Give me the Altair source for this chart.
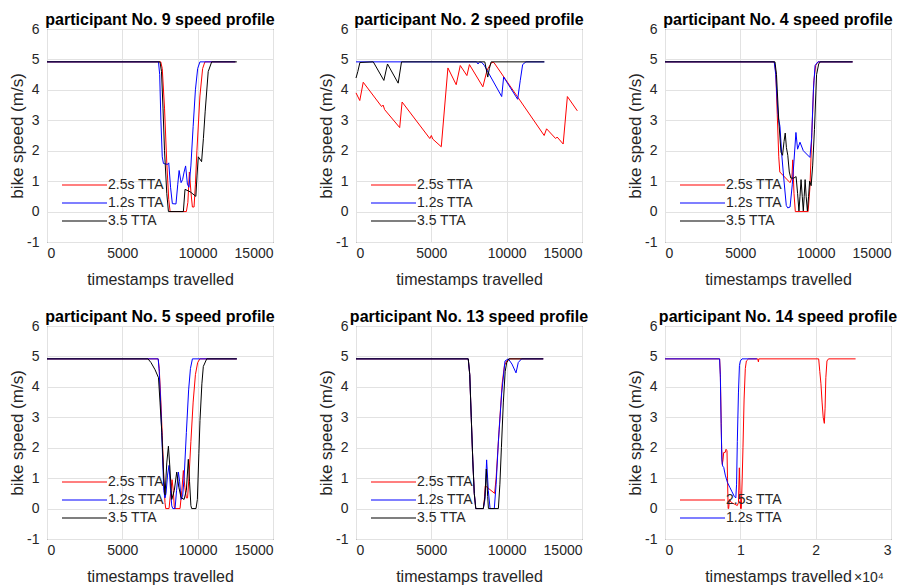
import altair as alt
import pandas as pd

SERIES_NAMES = ["2.5s TTA", "1.2s TTA", "3.5 TTA"]
SERIES_COLORS = ["#ff0000", "#0000ff", "#000000"]
Y_TICKS = [-1, 0, 1, 2, 3, 4, 5, 6]
X_TICKS_15K = [0, 5000, 10000, 15000]
X_TICKS_30K = [0, 10000, 20000, 30000]

# ---------------- participant No. 9 ----------------
p9_red_x = [0, 7550, 7650, 7800, 7950, 8080, 8170, 9250, 9350, 9450, 9560, 9650, 9760, 9850, 9950, 10150, 10330, 10480, 12500]
p9_red_y = [4.92, 4.92, 4.7, 3.4, 1.6, 0.4, 0, 0, 0.3, 1.3, 0.6, 0.15, 0.15, 0.9, 2.0, 3.8, 4.7, 4.92, 4.92]
p9_blue_x = [0, 7400, 7480, 7560, 7650, 7730, 8000, 8080, 8200, 8320, 8560, 8680, 8770, 8900, 9000, 9100, 9200, 9320, 9420, 9550, 9700, 9850, 10000, 10150, 12500]
p9_blue_y = [4.92, 4.92, 4.5, 3.0, 1.8, 1.58, 1.55, 1.6, 0.8, 0.26, 0.25, 0.9, 1.35, 0.95, 1.05, 1.3, 1.5, 0.9, 0.8, 1.5, 2.8, 4.0, 4.7, 4.92, 4.92]
p9_black_x = [0, 7500, 7600, 7700, 7800, 7950, 8060, 9050, 9160, 9500, 9880, 9960, 10040, 10260, 10380, 10500, 10700, 10930, 12600]
p9_black_y = [4.92, 4.92, 4.6, 3.4, 2.0, 0.6, 0, 0, 0.73, 0.65, 0.5, 1.2, 1.8, 1.64, 2.4, 3.3, 4.6, 4.92, 4.92]

# ---------------- participant No. 2 ----------------
p2_red_x = [0, 250, 480, 1700, 1800, 1900, 2900, 3060, 4900, 5000, 5100, 5660, 6100, 6650, 6920, 7360, 7530, 8420, 8700, 9000, 9150, 12490, 12650, 13250, 13350, 13750, 14030, 14690]
p2_red_y = [3.9, 3.65, 4.25, 3.45, 3.5, 3.35, 2.76, 3.6, 2.4, 2.5, 2.38, 2.13, 4.72, 4.17, 4.8, 4.47, 4.83, 4.1, 4.65, 4.9, 4.9, 2.5, 2.72, 2.4, 2.45, 2.22, 3.78, 3.31]
p2_blue_x = [0, 8000, 8100, 8200, 8350, 8520, 9670, 9800, 10730, 10900, 11060, 11280, 12500]
p2_blue_y = [4.92, 4.92, 4.85, 4.92, 4.9, 4.8, 3.78, 4.42, 3.69, 4.3, 4.83, 4.92, 4.92]
p2_black_x = [0, 120, 260, 1145, 1850, 2090, 2800, 3020, 8550, 8745, 8850, 8970, 12500]
p2_black_y = [4.39, 4.6, 4.9, 4.92, 4.31, 4.85, 4.22, 4.92, 4.92, 4.42, 4.7, 4.92, 4.92]

# ---------------- participant No. 4 ----------------
p4_red_x = [0, 7250, 7350, 7450, 7550, 7620, 8300, 8420, 8480, 8560, 8650, 9500, 9620, 9750, 9880, 10000, 10150, 12450]
p4_red_y = [4.92, 4.92, 4.6, 3.2, 1.8, 1.3, 0.95, 1.1, 1.7, 0.6, 0, 0, 0.8, 2.6, 4.3, 4.8, 4.92, 4.92]
p4_blue_x = [0, 7250, 7350, 7450, 7520, 7630, 7744, 7900, 8050, 8150, 8300, 8450, 8560, 8690, 8800, 8960, 9180, 9620, 9730, 9850, 9960, 10150, 12450]
p4_blue_y = [4.92, 4.92, 4.5, 3.6, 3.1, 2.8, 1.9, 1.0, 0.2, 0.12, 0.15, 0.9, 1.66, 2.6, 2.05, 2.28, 2.0, 1.78, 2.4, 4.0, 4.8, 4.92, 4.92]
p4_black_x = [0, 7300, 7400, 7550, 7700, 7800, 7900, 7980, 8060, 8150, 8250, 8350, 8550, 8700, 8800, 8890, 8960, 9030, 9110, 9180, 9240, 9300, 9370, 9450, 9530, 9600, 9700, 9800, 9920, 10060, 10200, 10300, 12450]
p4_black_y = [4.92, 4.92, 4.5, 3.0, 1.95, 1.85, 2.3, 2.58, 2.1, 1.85, 1.3, 1.1, 1.1, 1.15, 0.6, 0.02, 0.5, 1.05, 0.5, 0.02, 0.5, 1.05, 0.5, 0.02, 0.5, 1.0, 0.85, 1.5, 2.7, 4.5, 4.85, 4.92, 4.92]

# ---------------- participant No. 5 ----------------
p5_red_x = [0, 7380, 7450, 7550, 7650, 7750, 7830, 7880, 8100, 8200, 8300, 8380, 8450, 8500, 8830, 8950, 9050, 9150, 9250, 9330, 9420, 9550, 9700, 9850, 10000, 10150, 12600]
p5_red_y = [4.92, 4.92, 4.6, 3.6, 2.4, 1.0, 0.2, 0, 0, 0.5, 0.95, 0.6, 0.05, 0, 0, 0.6, 1.25, 0.7, 0.35, 0.35, 1.0, 2.2, 3.5, 4.4, 4.8, 4.92, 4.92]
p5_blue_x = [0, 7380, 7450, 7550, 7650, 7750, 7830, 7900, 8000, 8100, 8200, 8280, 8350, 8500, 8600, 8720, 8800, 8900, 9000, 9100, 9250, 9400, 9520, 9650, 12600]
p5_blue_y = [4.92, 4.92, 4.5, 3.4, 2.0, 0.6, 0.35, 0.5, 1.1, 1.42, 0.6, 0.09, 0, 0, 0.6, 1.2, 0.9, 0.3, 0.4, 1.0, 2.5, 3.9, 4.6, 4.92, 4.92]
p5_black_x = [0, 6700, 6900, 7175, 7400, 7500, 7620, 7750, 7837, 7950, 8058, 8150, 8280, 8450, 8610, 8750, 8900, 9100, 9250, 9380, 9460, 9550, 9603, 9890, 9980, 10080, 10154, 10280, 10375, 10600, 12600]
p5_black_y = [4.92, 4.92, 4.8, 4.56, 4.3, 3.5, 2.5, 1.0, 0.45, 1.5, 2.05, 1.4, 0.3, 0.6, 1.2, 0.7, 0.36, 0.3, 0.6, 1.62, 0.9, 0.1, 0, 0, 0.3, 1.8, 2.9, 4.1, 4.67, 4.92, 4.92]

# ---------------- participant No. 13 ----------------
p13_red_x = [0, 7450, 7550, 7650, 7750, 7850, 7950, 8450, 8520, 8580, 8700, 9200, 9300, 9500, 9700, 9850, 10000, 10200, 12430]
p13_red_y = [4.92, 4.92, 4.4, 3.0, 1.6, 0.5, 0, 0, 0.3, 0.75, 0.7, 0.5, 1.0, 2.6, 4.1, 4.7, 4.85, 4.92, 4.92]
p13_blue_x = [0, 7450, 7550, 7650, 7750, 7850, 7950, 8450, 8560, 8670, 8780, 8900, 9180, 9300, 9450, 9670, 9890, 10110, 10350, 10620, 10770, 10990, 12430]
p13_blue_y = [4.92, 4.92, 4.4, 3.0, 1.6, 0.5, 0, 0, 0.3, 1.6, 0.6, 0, 0, 0.8, 2.2, 3.8, 4.85, 4.92, 4.75, 4.46, 4.8, 4.92, 4.92]
p13_black_x = [0, 7450, 7550, 7650, 7750, 7850, 7950, 8450, 8560, 8650, 8740, 8790, 9450, 9550, 9650, 9780, 9900, 10000, 10150, 12430]
p13_black_y = [4.92, 4.92, 4.4, 3.0, 1.6, 0.5, 0, 0, 0.4, 1.3, 0.4, 0, 0, 0.8, 2.0, 3.5, 4.5, 4.79, 4.92, 4.92]

# ---------------- participant No. 14 ----------------
p14_red_x = [0, 7250, 7350, 7450, 7520, 7600, 7700, 7790, 8000, 8100, 8230, 8300, 8380, 8450, 8550, 8800, 9200, 9600, 9750, 9870, 9950, 10030, 10130, 10250, 10350, 10500, 10660, 10800, 11100, 12300, 12400, 12450, 20400, 20550, 20700, 20850, 21000, 21150, 21250, 21350, 21500, 21700, 25300]
p14_red_y = [4.92, 4.92, 4.4, 3.0, 1.95, 1.45, 1.6, 1.84, 1.85, 1.95, 1.9, 1.0, 0, 0, 0.3, 0.2, 0.15, 0.1, 0.2, 1.34, 0.6, 0, 0, 1.0, 2.0, 3.6, 4.6, 4.85, 4.92, 4.92, 4.82, 4.92, 4.92, 4.5, 4.1, 3.5, 3.0, 2.8, 3.3, 4.3, 4.85, 4.92, 4.92]
p14_blue_x = [0, 7250, 7350, 7450, 7550, 7650, 7800, 8000, 8300, 8600, 8900, 9200, 9400, 9500, 9600, 9750, 9880, 10000, 10220, 12200]
p14_blue_y = [4.92, 4.92, 4.3, 2.8, 1.6, 1.4, 1.35, 1.1, 0.85, 0.7, 0.55, 0.4, 0.35, 0.8, 2.2, 3.8, 4.7, 4.85, 4.92, 4.92]

EXPONENT_LABEL = "×10⁴"

PANELS = [
    ("participant No. 9 speed profile",
     [("2.5s TTA", p9_red_x, p9_red_y), ("1.2s TTA", p9_blue_x, p9_blue_y), ("3.5 TTA", p9_black_x, p9_black_y)],
     15000, X_TICKS_15K, False),
    ("participant No. 2 speed profile",
     [("2.5s TTA", p2_red_x, p2_red_y), ("1.2s TTA", p2_blue_x, p2_blue_y), ("3.5 TTA", p2_black_x, p2_black_y)],
     15000, X_TICKS_15K, False),
    ("participant No. 4 speed profile",
     [("2.5s TTA", p4_red_x, p4_red_y), ("1.2s TTA", p4_blue_x, p4_blue_y), ("3.5 TTA", p4_black_x, p4_black_y)],
     15000, X_TICKS_15K, False),
    ("participant No. 5 speed profile",
     [("2.5s TTA", p5_red_x, p5_red_y), ("1.2s TTA", p5_blue_x, p5_blue_y), ("3.5 TTA", p5_black_x, p5_black_y)],
     15000, X_TICKS_15K, False),
    ("participant No. 13 speed profile",
     [("2.5s TTA", p13_red_x, p13_red_y), ("1.2s TTA", p13_blue_x, p13_blue_y), ("3.5 TTA", p13_black_x, p13_black_y)],
     15000, X_TICKS_15K, False),
    ("participant No. 14 speed profile",
     [("2.5s TTA", p14_red_x, p14_red_y), ("1.2s TTA", p14_blue_x, p14_blue_y)],
     30000, X_TICKS_30K, True),
]

FONT = "Liberation Sans"
W, H = 226, 213
# legend (MATLAB 'southwest', no box): bottom row centre, row step, sample line span
LEG_BOTTOM_ROW_Y = 192
LEG_ROW_STEP = 18
LEG_LINE_X0, LEG_LINE_X1, LEG_TEXT_X = 15, 60, 61


def make_panel(idx, title, series, x_max, x_ticks, scaled):
    field = f"series{idx}"
    frames = []
    for name, xs, ys in series:
        frames.append(pd.DataFrame({field: name, "t": xs, "v": ys, "i": list(range(len(xs)))}))
    df = pd.concat(frames, ignore_index=True)
    names = [s[0] for s in series]
    colors = [SERIES_COLORS[SERIES_NAMES.index(n)] for n in names]
    color_scale = alt.Scale(domain=names, range=colors)

    x_axis_kw = dict(values=x_ticks, title="timestamps travelled", labelPadding=4, titlePadding=11,
                     titleFontSize=16)
    if scaled:
        x_axis_kw["labelExpr"] = "format(datum.value / 10000, 'd')"
    else:
        x_axis_kw["format"] = "d"

    line = alt.Chart(df).mark_line(strokeWidth=1).encode(
        x=alt.X("t:Q", scale=alt.Scale(domain=[0, x_max], nice=False, zero=False),
                axis=alt.Axis(**x_axis_kw)),
        y=alt.Y("v:Q", scale=alt.Scale(domain=[-1, 6], nice=False),
                axis=alt.Axis(values=Y_TICKS, title="bike speed (m/s)", labelPadding=8, titlePadding=0,
                              titleFontSize=17, labelExpr="'' + datum.value")),
        color=alt.Color(f"{field}:N", scale=color_scale, legend=None),
        order="i:Q",
    )
    layers = [line]

    # legend entries (sample line as a 1px bar + label), anchored at the lower left
    n = len(names)
    for k, (name, col) in enumerate(zip(names, colors)):
        row_y = LEG_BOTTOM_ROW_Y - LEG_ROW_STEP * (n - 1 - k)
        entry = alt.Chart(pd.DataFrame({"entry": [name], "panel": [idx], "row": [k]}))
        layers.append(entry.mark_rect(color=col, strokeWidth=0).encode(
            x=alt.value(LEG_LINE_X0), x2=alt.value(LEG_LINE_X1),
            y=alt.value(row_y - 0.5), y2=alt.value(row_y + 0.5)))
        layers.append(entry.mark_text(align="left", baseline="middle", font=FONT, fontSize=14,
                                      color="#262626").encode(
            x=alt.value(LEG_TEXT_X), y=alt.value(row_y), text="entry:N"))

    if scaled:
        layers.append(
            alt.Chart(pd.DataFrame({"label": [EXPONENT_LABEL]})).mark_text(
                align="left", baseline="alphabetic", font=FONT, fontSize=14, color="#262626"
            ).encode(x=alt.value(189), y=alt.value(256), text="label:N")
        )
    return alt.layer(*layers).properties(
        width=W, height=H,
        title=alt.Title(text=title, fontSize=16, fontWeight="bold", font=FONT, color="#000000",
                        offset=-6, anchor="middle"),
    )


charts = [make_panel(i, *p) for i, p in enumerate(PANELS)]

chart = alt.concat(*charts, columns=3, spacing={"row": 84, "column": 83}, bounds="flush").resolve_scale(
    color="independent"
).properties(
    padding={"left": 0, "top": 3, "right": 0, "bottom": 0}
).configure_view(
    stroke="#262626", strokeWidth=1
).configure_axis(
    labelFont=FONT, labelFontSize=14, labelColor="#262626",
    titleFont=FONT, titleFontWeight="normal", titleColor="#262626",
    gridColor="#e2e2e2", gridWidth=1, domain=False, ticks=False,
)

chart.save("out.html", embed_options={"renderer": "svg", "actions": False})
